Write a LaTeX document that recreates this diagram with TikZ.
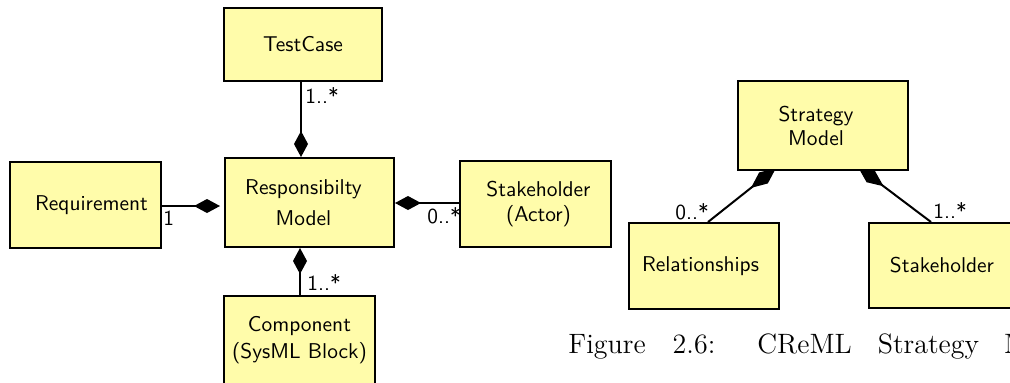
\documentclass[tikz,border=0pt]{standalone}
\usepackage{fontspec}
\usetikzlibrary{arrows.meta,backgrounds}
\definecolor{boxfill}{RGB}{255,252,170}
\newcommand\txtR[2]{\mbox{\kern#2\relax#1}}
\newcommand\txtL[2]{\mbox{#1\kern#2\relax}}
\tikzset{
  umlbox/.style={draw=black, fill=boxfill, line width=1pt, inner sep=0pt, align=center,
    font=\sffamily\fontsize{10.7}{#1}\selectfont},
  umlbox/.default=13,
  mult/.style={font=\sffamily\fontsize{10.7}{13}\selectfont, inner sep=0pt, anchor=base west},
  comp/.style={line width=1pt, -{Diamond[length=13pt,width=7pt]}},
  compb/.style={line width=1pt, -{Diamond[length=16pt,width=7pt]}},
}
\begin{document}
\begin{tikzpicture}[x=0.5pt, y=-0.5pt]
\useasboundingbox (0,0) rectangle (1010,382);
\clip (0,0) rectangle (1010,382);
% left diagram
\node[umlbox, minimum width=79pt, minimum height=36.5pt] (tc) at (303,44.5) {TestCase};
\node[umlbox=15.2, minimum width=84.5pt, minimum height=44.5pt] (resp) at (309.5,202.5)
  {\txtL{Responsibilty}{6pt}\\\txtL{Model}{6pt}};
\node[umlbox, minimum width=75.5pt, minimum height=43pt] (req) at (85.5,205) {\txtR{Requirement}{6pt}};
\node[umlbox=12.5, minimum width=75.5pt, minimum height=43pt] (sh1) at (535.5,204)
  {\txtR{Stakeholder}{3pt}\\\txtR{(Actor)}{3pt}};
\node[umlbox=13.5, minimum width=75.5pt, minimum height=44pt] (comp) at (299.5,340)
  {Component\\(SysML Block)};
\draw[comp] ([xshift=-1pt]tc.south) -- ([xshift=-1pt]tc.south |- resp.north);
\draw[comp, shorten >=2pt] ([yshift=-0.5pt]req.east) -- ([yshift=-0.5pt]req.east -| resp.west);
\draw[comp] ([yshift=0.5pt]sh1.west) -- ([yshift=0.5pt]sh1.west -| resp.east);
\draw[comp] ([xshift=0.25pt]comp.north) -- ([xshift=0.25pt]comp.north |- resp.south);
\node[mult] (m1) at (305,103) {1..*};
\node[mult] (m2) at (163,225) {1};
\node[mult] (m3) at (427,223) {0..*};
\node[mult] (m4) at (307,290) {1..*};
% right diagram
\node[umlbox=12, minimum width=85pt, minimum height=44.5pt] (sm) at (823,125.5)
  {\txtL{Strategy}{7pt}\\\txtL{Model}{7pt}};
\node[umlbox, minimum width=75pt, minimum height=43pt] (rel) at (704,266) {\txtL{Relationships}{3.5pt}};
\node[umlbox, minimum width=73pt, minimum height=42.5pt] (sh2) at (942,265.5) {Stakeholder};
\begin{scope}[on background layer]
\fill[white] (0,0) rectangle (1010,382);
\draw[compb] ([xshift=2pt]rel.north) -- ([xshift=-23.5pt,yshift=1.5pt]sm.south);
\draw[compb] ([xshift=-5.5pt]sh2.north) -- ([xshift=17.5pt,yshift=2pt]sm.south);
\end{scope}
\node[mult] (m5) at (675,219) {0..*};
\node[mult] (m6) at (933,218) {1..*};
% caption
\node[anchor=base west, inner sep=0pt, font=\fontsize{14}{17}\selectfont] (cap) at (568,353)
  {Figure\hspace{13.5pt}2.6:\hspace{21pt}CReML\hspace{13pt}Strategy\hspace{12.5pt}M};
\end{tikzpicture}
\end{document}
